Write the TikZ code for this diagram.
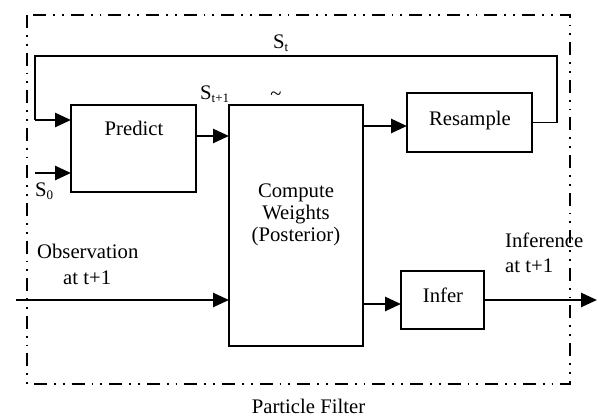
\documentclass[tikz,border=0pt]{standalone}
\usepackage{fontspec}
\setmainfont{Liberation Serif}
\usetikzlibrary{arrows.meta}
\newcommand{\lowsub}[1]{\raisebox{-0.3ex}{\fontsize{13}{13}\selectfont #1}}
\begin{document}
\begin{tikzpicture}[x=1pt,y=-1pt,
  box/.style={draw, line width=1.6pt, inner sep=0pt, outer sep=0pt},
  txt/.style={inner sep=0pt, anchor=base, font=\fontsize{20.7}{22}\selectfont},
  arr/.style={line width=2.6pt, -{Triangle[length=16pt,width=14pt]}},
  thinline/.style={line width=1.6pt},
  frame/.style={line width=1.8pt, dash pattern=on 13pt off 7pt on 1.8pt off 7pt on 1.8pt off 7pt}]
\useasboundingbox (0,0) rectangle (598,419);
% outer frame
\draw[frame] (27,15) rectangle (570,384);
% boxes
\node[box, minimum width=125pt, minimum height=87pt] (predict) at (133.5,148.5) {};
\node[box, minimum width=134pt, minimum height=241pt] (compute) at (296,225.5) {};
\node[box, minimum width=125pt, minimum height=59pt] (resample) at (469.5,122.5) {};
\node[box, minimum width=83pt, minimum height=58pt] (infer) at (442.5,300) {};
% box texts
\node[txt] (predictT) at (134,136) {Predict};
\node[txt] (computeT1) at (296,198) {Compute};
\node[txt] (computeT2) at (296,220) {Weights};
\node[txt] (computeT3) at (296,242) {(Posterior)};
\node[txt] (resampleT) at (470,126) {Resample};
\node[txt] (inferT) at (443,303) {Infer};
% labels
\node[txt, anchor=base west] (st) at (273,49) {S\lowsub{t}};
\node[txt, anchor=base west] (st1) at (200,100) {S\lowsub{t+1}};
\node[txt] (tilde) at (276,101) {\textasciitilde};
\node[txt, anchor=base west] (s0) at (35,197) {S\lowsub{0}};
\node[txt, anchor=base west] (obs1) at (37,259) {Observation};
\node[txt, anchor=base west] (obs2) at (63,285) {at t+1};
\node[txt, anchor=base west] (inf1) at (505,248) {Inference};
\node[txt, anchor=base west] (inf2) at (505,273) {at t+1};
\node[txt] (pf) at (308.5,414) {Particle Filter};
% coordinates
\coordinate (loopR) at (557,56);
\coordinate (loopL) at (35,56);
\coordinate (loopIn) at (35,120);
\coordinate (s0in) at (35,173);
\coordinate (obsin) at (16,300);
\coordinate (outend) at (597,300);
% connectors
\draw[thinline] (resample.east) -| (loopR) -- (loopL) -- (loopIn);
\draw[arr] (loopIn) -- (predict.west |- loopIn);
\draw[arr] (s0in) -- (predict.west |- s0in);
\draw[arr] (predict.east |- 0,136) -- (compute.west |- 0,136);
\draw[arr] (compute.east |- 0,126) -- (resample.west |- 0,126);
\draw[arr] (obsin) -- (compute.west |- obsin);
\draw[arr] (compute.east |- 0,304) -- (infer.west |- 0,304);
\draw[arr] (infer.east) -- (outend);
\end{tikzpicture}
\end{document}
